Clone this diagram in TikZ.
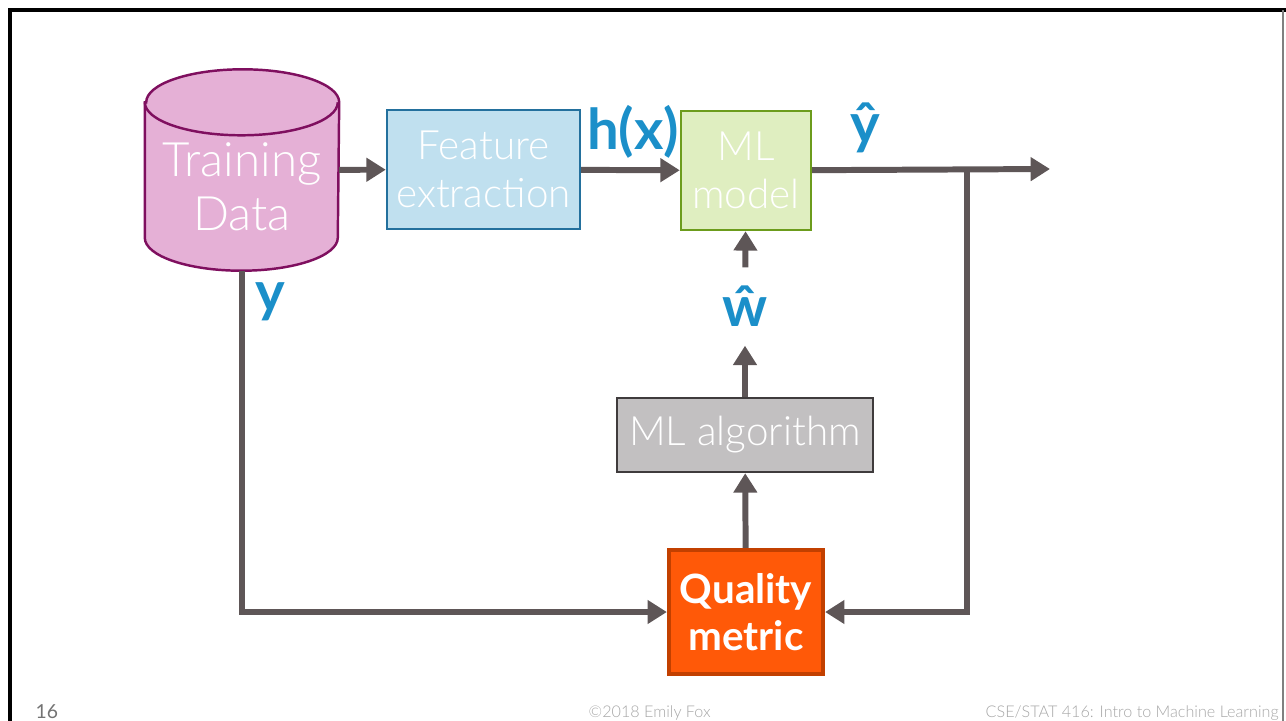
\documentclass[tikz,border=0pt]{standalone}
\usepackage{fontspec}
\setmainfont{Lato}
\newfontfamily\lightfont{Lato Light}
\usetikzlibrary{positioning}
\usetikzlibrary{shapes.geometric, arrows.meta}

\definecolor{arrowgray}{HTML}{5E5657}
\definecolor{labelblue}{HTML}{1B8FC9}
\definecolor{datafill}{HTML}{E5B0D6}
\definecolor{dataline}{HTML}{7F0F5F}
\definecolor{featfill}{HTML}{C0E0EF}
\definecolor{featline}{HTML}{23709D}
\definecolor{modelfill}{HTML}{DFEEC0}
\definecolor{modelline}{HTML}{6C9C1C}
\definecolor{algfill}{HTML}{C2C0C1}
\definecolor{algline}{HTML}{3F3B3C}
\definecolor{qualfill}{HTML}{FF5908}
\definecolor{qualline}{HTML}{C24000}

\begin{document}
\begin{tikzpicture}
    \tikzset{base/.style = {rectangle, draw, text=white, align=center,
                           inner sep=0pt, line width=0.7pt,
                           font=\lightfont\fontsize{11.5}{13.5}\selectfont}}
    \tikzset{feature/.style = {base, fill=featfill, draw=featline}}
    \tikzset{model/.style = {base, fill=modelfill, draw=modelline}}
    \tikzset{algo/.style = {base, fill=algfill, draw=algline}}
    \tikzset{quality/.style = {base, fill=qualfill, draw=qualline, line width=1.2pt,
                           font=\bfseries\fontsize{11.5}{13.5}\selectfont}}
    \tikzset{label/.style = {text=labelblue, inner sep=0pt,
                           font=\bfseries\fontsize{16}{18}\selectfont}}
    \tikzset{arr/.style = {draw=arrowgray, line width=1.7pt,
                           -{Triangle[width=6.5pt,length=5.5pt]}}}
    \tikzset{footer/.style = {text=gray!70, inner sep=0pt, anchor=base west}}
    \tikzset{drum/.style = {fill=datafill, draw=dataline, line width=0.7pt}}

    \useasboundingbox (0,0) rectangle (12.86,-7.21);
    \clip (0,0) rectangle (12.86,-7.21);

    % slide frame
    \draw[line width=1pt] (0.10,-7.30) -- (0.10,-0.10) -- (12.90,-0.10);
    \draw[gray, line width=0.4pt] (12.83,-0.10) -- (12.83,-7.30);

    % training data drum
    \node (data) [rectangle, inner sep=0pt, minimum width=1.93cm, minimum height=2.0cm] at (2.42,-1.70) {};
    \draw[drum] ([yshift=-0.33cm]data.north west) -- ([yshift=0.33cm]data.south west)
        arc[start angle=180, end angle=360, x radius=0.965cm, y radius=0.33cm]
        -- ([yshift=-0.33cm]data.north east)
        arc[start angle=0, end angle=180, x radius=0.965cm, y radius=0.33cm] -- cycle;
    \draw[drum, fill=none] ([yshift=-0.33cm]data.north west)
        arc[start angle=180, end angle=360, x radius=0.965cm, y radius=0.33cm];
    \node (datatext) [text=white, align=center, inner sep=0pt,
                      font=\lightfont\fontsize{13.5}{15.5}\selectfont]
                      at (2.42,-1.87) {Training\\Data};

    \node (feat) [feature, minimum width=1.93cm, minimum height=1.19cm] at (4.835,-1.695) {Feature\\extraction};
    \node (mlm) [model, minimum width=1.30cm, minimum height=1.19cm] at (7.46,-1.705) {ML\\model};
    \node (alg) [algo, minimum width=2.56cm, minimum height=0.74cm] at (7.45,-4.35) {ML algorithm};
    \node (qm) [quality, minimum width=1.54cm, minimum height=1.24cm] at (7.46,-6.12) {Quality\\metric};

    \node (hx) [label] at (6.33,-1.32) {h(x)};
    \node (yhat) [label] at (8.65,-1.28) {ŷ};
    \node (ylab) [label] at (2.70,-3.02) {y};
    \node (what) [label, minimum height=0.77cm] at (7.45,-3.065) {ŵ};

    \coordinate (out) at (10.50,-1.69);
    \coordinate (branch) at (9.67,-1.70);

    \draw[arr] (data) -- (feat);
    \draw[arr] (feat) -- (mlm);
    \draw[arr] (mlm) -- (out);
    \draw[arr] (branch) |- (qm);
    \draw[arr] (data.south) |- (qm);
    \draw[arr] (qm) -- (alg);
    \draw[arr] (alg) -- (what);
    \draw[arr] (what) -- (mlm);

    % footer
    \node (page) [footer, text=gray!90!black, font=\fontsize{5.5}{6}\selectfont] at (0.35,-7.18) {16};
    \node (copy) [footer, font=\lightfont\fontsize{4.6}{5}\selectfont] at (5.88,-7.17) {©2018 Emily Fox};
    \node (course) [footer, font=\lightfont\fontsize{4.6}{5}\selectfont] at (9.85,-7.17) {CSE/STAT 416: Intro to Machine Learning};
\end{tikzpicture}
\end{document}
